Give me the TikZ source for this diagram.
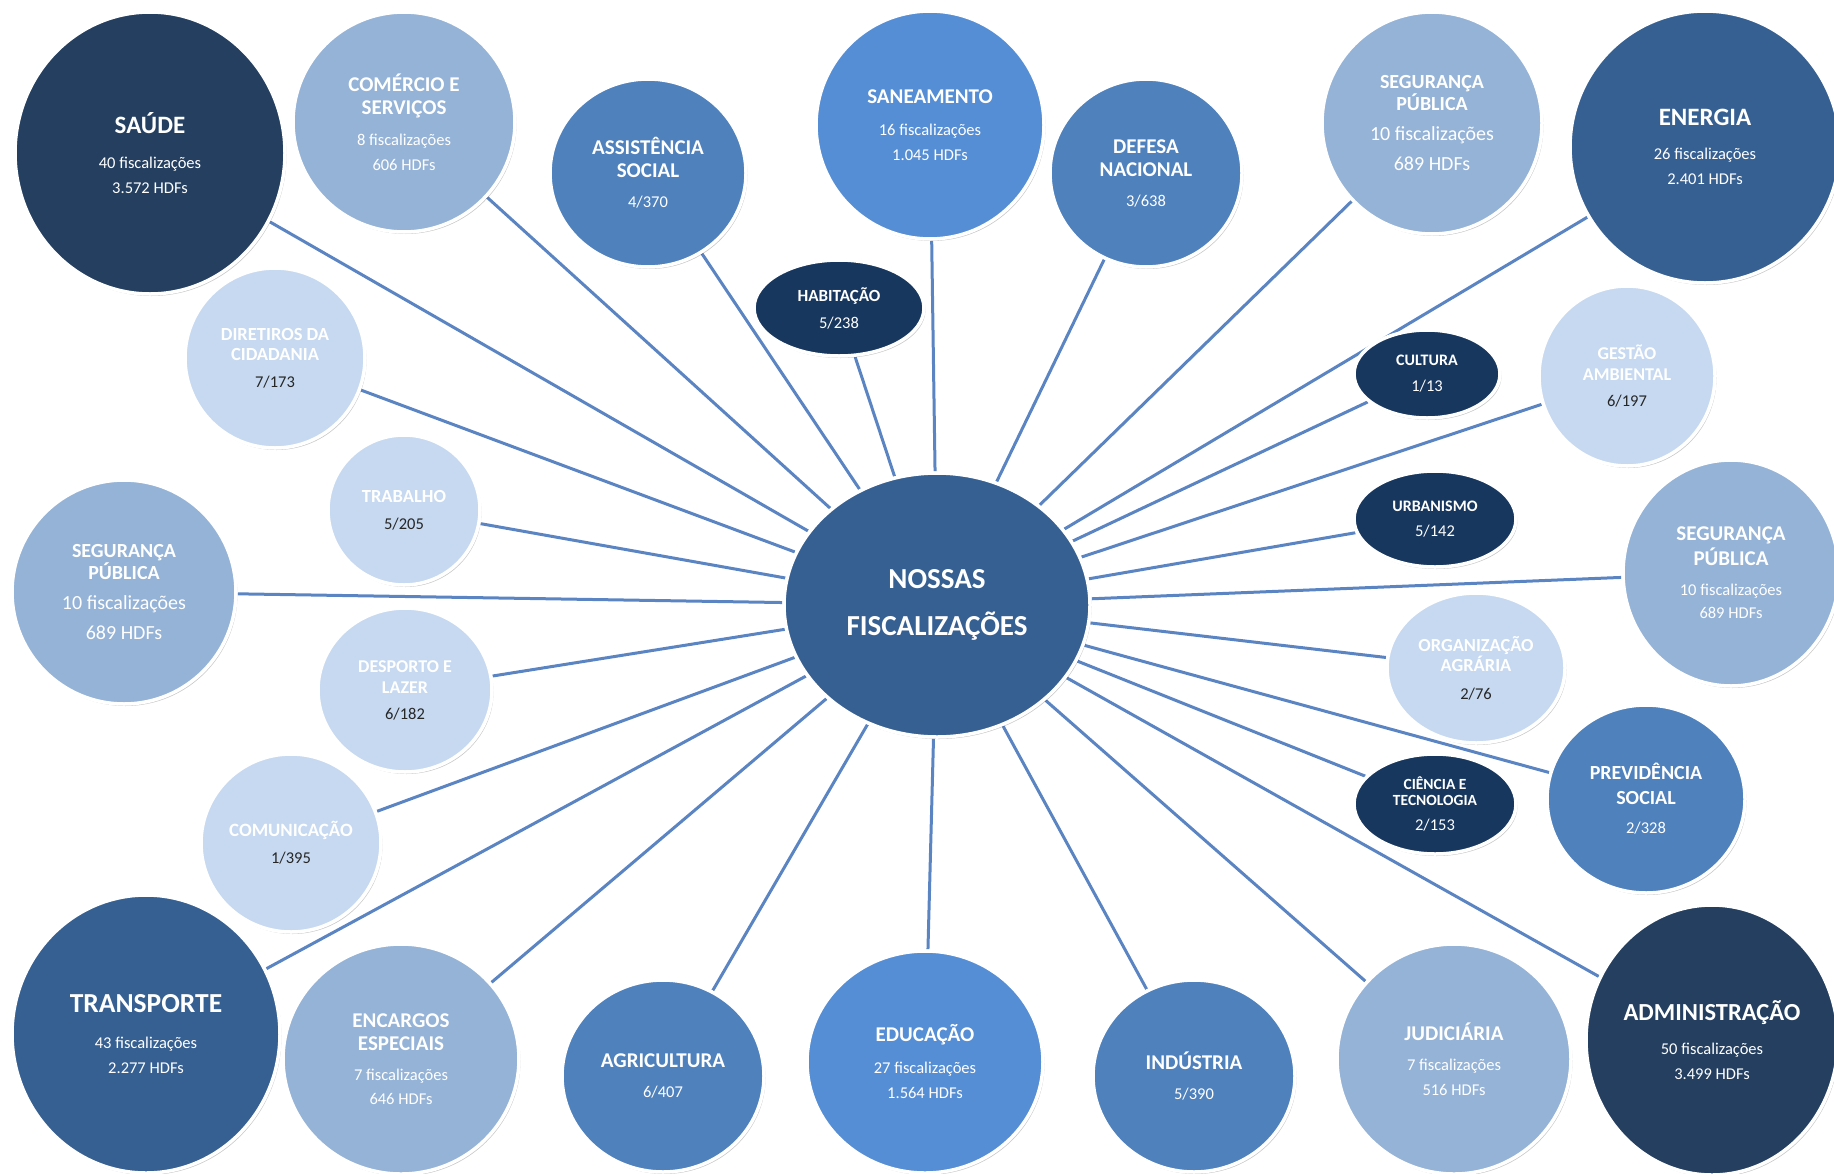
\documentclass[tikz,border=0pt]{standalone}
\usepackage{fontspec}
\setmainfont{Carlito}
\usepackage{tikz}
\usetikzlibrary{shapes.geometric,backgrounds,shadows}

\definecolor{navy}{HTML}{243F60}
\definecolor{ink}{HTML}{17375E}
\definecolor{steel}{HTML}{376092}
\definecolor{azure}{HTML}{4F81BD}
\definecolor{sky}{HTML}{558ED5}
\definecolor{mist}{HTML}{95B3D7}
\definecolor{pale}{HTML}{C6D9F1}
\definecolor{spokeblue}{HTML}{5B84C2}
\definecolor{numtext}{HTML}{262626}

\newcommand{\bubtitle}[1]{\fontsize{#1}{#1}\selectfont\bfseries}
\newcommand{\dark}[1]{{\color{numtext}#1}}

\begin{document}
\begin{tikzpicture}[x=1pt,y=-1pt,
  bubble/.style={ellipse, draw=white, line width=3.5pt, inner sep=0pt, align=center, text=white,
    font=\fontsize{16.5}{25}\selectfont,
    drop shadow={shadow xshift=1.5pt, shadow yshift=-2pt, fill=black, opacity=.22}},
  spk/.style={draw=spokeblue, line width=3pt}]
\useasboundingbox (0,0) rectangle (1834,1173);

\node[bubble, fill=steel, minimum width=306pt, minimum height=264pt] (main) at (937,605)
  {{\bubtitle{29}NOSSAS}\\[22pt]{\bubtitle{29}FISCALIZAÇÕES}};

% top row
\node[bubble, fill=navy, minimum width=270pt, minimum height=282pt] (saude) at (150,153)
  {{\bubtitle{25}SAÚDE}\\[10pt]40 fiscalizações\\3.572 HDFs};
\node[bubble, fill=mist, minimum width=222pt, minimum height=220pt] (comercio) at (404,122)
  {{\bubtitle{21}COMÉRCIO E}\\[-2pt]{\bubtitle{21}SERVIÇOS}\\[6pt]8 fiscalizações\\606 HDFs};
\node[bubble, fill=azure, minimum width=196pt, minimum height=188pt] (assist) at (648,173)
  {{\bubtitle{21}ASSISTÊNCIA}\\[-2pt]{\bubtitle{21}SOCIAL}\\[5pt]4/370};
\node[bubble, fill=sky, minimum width=228pt, minimum height=228pt] (saneam) at (930,125)
  {{\bubtitle{21}SANEAMENTO}\\[7pt]16 fiscalizações\\1.045 HDFs};
\node[bubble, fill=ink, minimum width=170pt, minimum height=96pt] (habit) at (839,308)
  {{\bubtitle{17}HABITAÇÃO}\\[2pt]5/238};
\node[bubble, fill=azure, minimum width=192pt, minimum height=188pt] (defesa) at (1146,173)
  {{\bubtitle{21}DEFESA}\\[-2pt]{\bubtitle{21}NACIONAL}\\[5pt]3/638};
\node[bubble, fill=mist, minimum width=220pt, minimum height=222pt] (segtop) at (1432,123)
  {{\bubtitle{20}SEGURANÇA}\\[-3pt]{\bubtitle{20}PÚBLICA}\\[5pt]{\fontsize{20}{20}\selectfont 10 fiscalizações}\\[5pt]{\fontsize{20}{20}\selectfont 689 HDFs}};
\node[bubble, fill=steel, minimum width=270pt, minimum height=272pt] (energia) at (1705,147)
  {{\bubtitle{25}ENERGIA}\\[9pt]26 fiscalizações\\2.401 HDFs};

% left side
\node[bubble, fill=pale, minimum width=180pt, minimum height=180pt] (direitos) at (275,358)
  {{\bubtitle{18.5}DIRETIROS DA}\\[-5pt]{\bubtitle{18.5}CIDADANIA}\\[2pt]\dark{7/173}};
\node[bubble, fill=pale, minimum width=152pt, minimum height=150pt] (trabalho) at (404,510)
  {{\bubtitle{18.5}TRABALHO}\\[2pt]\dark{5/205}};
\node[bubble, fill=mist, minimum width=224pt, minimum height=224pt] (segleft) at (124,592)
  {{\bubtitle{20}SEGURANÇA}\\[-3pt]{\bubtitle{20}PÚBLICA}\\[5pt]{\fontsize{20}{20}\selectfont 10 fiscalizações}\\[5pt]{\fontsize{20}{20}\selectfont 689 HDFs}};
\node[bubble, fill=pale, minimum width=174pt, minimum height=164pt] (desporto) at (405,690)
  {{\bubtitle{18}DESPORTO E}\\[-4pt]{\bubtitle{18}LAZER}\\[1pt]\dark{6/182}};
\node[bubble, fill=pale, minimum width=180pt, minimum height=178pt] (comunic) at (291,843)
  {{\bubtitle{18.8}COMUNICAÇÃO}\\[2pt]\dark{1/395}};

% right side
\node[bubble, fill=ink, minimum width=146pt, minimum height=88pt] (cultura) at (1427,374)
  {{\bubtitle{16}CULTURA}\\[1pt]1/13};
\node[bubble, fill=pale, minimum width=176pt, minimum height=180pt] (gestao) at (1627,376)
  {{\bubtitle{18}GESTÃO}\\[-4pt]{\bubtitle{18}AMBIENTAL}\\[1pt]\dark{6/197}};
\node[bubble, fill=ink, minimum width=162pt, minimum height=96pt] (urban) at (1435,519)
  {{\bubtitle{16}URBANISMO}\\5/142};
\node[bubble, fill=mist, minimum width=216pt, minimum height=226pt] (segright) at (1731,573)
  {{\bubtitle{21}SEGURANÇA}\\{\bubtitle{21}PÚBLICA}\\[5pt]10 fiscalizações\\[-2pt]689 HDFs};
\node[bubble, fill=pale, minimum width=178pt, minimum height=150pt] (agraria) at (1476,668)
  {{\bubtitle{18.4}ORGANIZAÇÃO}\\[-5pt]{\bubtitle{18.4}AGRÁRIA}\\[3pt]\dark{2/76}};
\node[bubble, fill=ink, minimum width=162pt, minimum height=100pt] (ciencia) at (1435,804)
  {{\bubtitle{15.5}CIÊNCIA E}\\[-9pt]{\bubtitle{15.5}TECNOLOGIA}\\2/153};
\node[bubble, fill=azure, minimum width=198pt, minimum height=188pt] (previd) at (1646,799)
  {{\bubtitle{20}PREVIDÊNCIA}\\{\bubtitle{20}SOCIAL}\\[4pt]2/328};

% bottom row
\node[bubble, fill=steel, minimum width=268pt, minimum height=278pt] (transp) at (146,1034)
  {{\bubtitle{27.5}TRANSPORTE}\\[11pt]43 fiscalizações\\2.277 HDFs};
\node[bubble, fill=mist, minimum width=236pt, minimum height=230pt] (encargos) at (401,1059)
  {{\bubtitle{21}ENCARGOS}\\[-2pt]{\bubtitle{21}ESPECIAIS}\\[5pt]7 fiscalizações\\[-1pt]646 HDFs};
\node[bubble, fill=azure, minimum width=202pt, minimum height=192pt] (agric) at (663,1076)
  {{\bubtitle{21}AGRICULTURA}\\[5pt]6/407};
\node[bubble, fill=sky, minimum width=236pt, minimum height=222pt] (educ) at (925,1062)
  {{\bubtitle{21}EDUCAÇÃO}\\[7pt]27 fiscalizações\\1.564 HDFs};
\node[bubble, fill=azure, minimum width=202pt, minimum height=192pt] (indus) at (1194,1076)
  {{\bubtitle{21}INDÚSTRIA}\\[5pt]5/390};
\node[bubble, fill=mist, minimum width=234pt, minimum height=230pt] (judic) at (1454,1059)
  {{\bubtitle{21}JUDICIÁRIA}\\[5pt]7 fiscalizações\\516 HDFs};
\node[bubble, fill=navy, minimum width=252pt, minimum height=270pt] (admin) at (1712,1040)
  {{\bubtitle{24.5}ADMINISTRAÇÃO}\\[9pt]50 fiscalizações\\3.499 HDFs};

\begin{scope}[on background layer]
\path[spk]
(main) edge (saude) edge (comercio) edge (assist) edge (habit) edge (saneam)
       edge (defesa) edge (segtop) edge (energia) edge (cultura) edge (gestao)
       edge (urban) edge (segright) edge (agraria) edge (previd) edge (ciencia)
       edge (admin) edge (judic) edge (indus) edge (educ) edge (agric)
       edge (encargos) edge (transp) edge (comunic) edge (desporto) edge (segleft)
       edge (trabalho) edge (direitos)
;
\end{scope}
\end{tikzpicture}
\end{document}
